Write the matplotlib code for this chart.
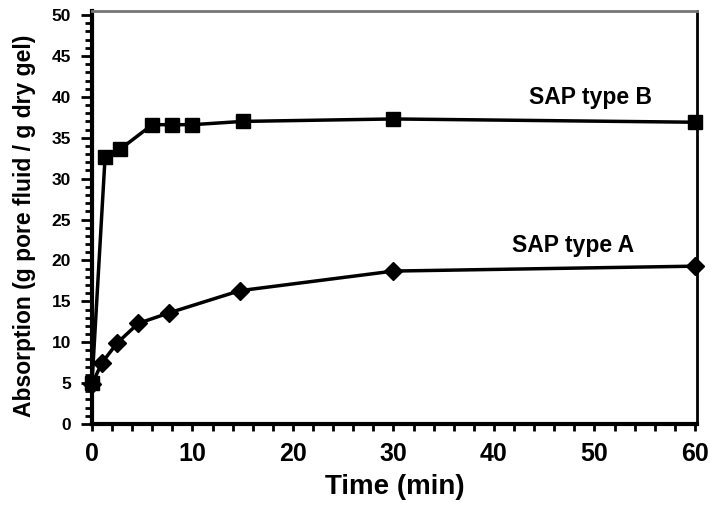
import numpy as np
import matplotlib
matplotlib.use("Agg")
import matplotlib.pyplot as plt
from matplotlib.ticker import MultipleLocator

# ── Data ──────────────────────────────────────────────────────────────────────
time_b = [0, 1.3, 2.8, 6, 8, 10, 15, 30, 60]
abs_b  = [5.0, 32.6, 33.6, 36.6, 36.6, 36.6, 37.0, 37.3, 36.9]

time_a = [0, 1.0, 2.5, 4.6, 7.7, 14.7, 30, 60]
abs_a  = [4.9, 7.5, 9.9, 12.3, 13.6, 16.3, 18.7, 19.3]

plt.rcParams["font.family"] = ["Liberation Sans", "DejaVu Sans"]
plt.rcParams["font.weight"] = "bold"

fig = plt.figure(figsize=(7.12, 5.09), dpi=100)
ax = fig.add_axes([92/712, 1 - 424/509, (697 - 92)/712, (424 - 11)/509])

ax.plot(time_b, abs_b, "s-", color="black", lw=2.5, ms=10, clip_on=False, zorder=3)
ax.plot(time_a, abs_a, "D-", color="black", lw=2.5, ms=9, clip_on=False, zorder=3)

# series labels
ax.text(49.6, 39.9, "SAP type B", ha="center", va="center", fontsize=16.5, fontweight="bold")
ax.text(47.9, 21.8, "SAP type A", ha="center", va="center", fontsize=16.5, fontweight="bold")

ax.set_xlim(0, 60.2)
ax.set_ylim(0, 50.5)
ax.xaxis.set_major_locator(MultipleLocator(10))
ax.xaxis.set_minor_locator(MultipleLocator(2))
ax.yaxis.set_major_locator(MultipleLocator(5))
ax.yaxis.set_minor_locator(MultipleLocator(1))

ax.tick_params(axis="x", which="both", direction="out", length=5, width=2, pad=8, labelsize=18)
ax.tick_params(axis="y", which="major", direction="out", length=8, width=2, pad=7, labelsize=12.5)
ax.tick_params(axis="y", which="minor", direction="out", length=5, width=2)
for lab in ax.get_xticklabels() + ax.get_yticklabels():
    lab.set_fontweight("bold")

ax.spines["left"].set_linewidth(3)
ax.spines["bottom"].set_linewidth(3)
ax.spines["right"].set_linewidth(2)
ax.spines["top"].set_linewidth(2)
ax.spines["top"].set_color("#777777")

ax.set_xlabel("Time (min)", fontsize=20, fontweight="bold", labelpad=6)
ax.set_ylabel("Absorption (g pore fluid / g dry gel)", fontsize=16.5, fontweight="bold", labelpad=10)
ax.yaxis.set_label_coords(-0.092, 0.48)

fig.savefig("out.png", dpi=100)
